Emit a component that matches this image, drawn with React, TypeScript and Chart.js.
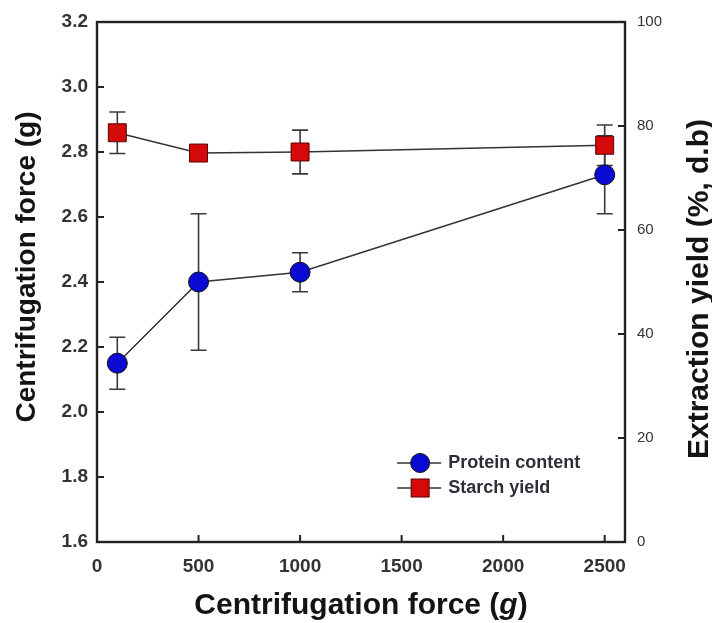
import React, { useEffect, useRef } from "react";
import { Chart, registerables } from "chart.js";

Chart.register(...registerables);

// Centrifugation force (g)
const forces = [100, 500, 1000, 2500];
// Protein content, left axis
const protein = [2.15, 2.4, 2.43, 2.73];
const proteinErr = [0.08, 0.21, 0.06, 0.12];
// Starch yield (%, d.b), right axis
const starch = [78.7, 74.8, 75.0, 76.3];
const starchErr = [4.0, 0.6, 4.2, 3.9];

const xTicks = [0, 500, 1000, 1500, 2000, 2500];
const leftTicks = [1.6, 1.8, 2.0, 2.2, 2.4, 2.6, 2.8, 3.0, 3.2];
const rightTicks = [0, 20, 40, 60, 80, 100];

const FONT = "'Liberation Sans', Arial, Helvetica, sans-serif";
const BLUE = "#0a0ad2";
const RED = "#d40a0a";

const errorBars = {
  id: "errorBars",
  beforeDatasetsDraw(chart: any) {
    const ctx = chart.ctx;
    const errs = [proteinErr, starchErr];
    chart.data.datasets.forEach((ds: any, i: number) => {
      const meta = chart.getDatasetMeta(i);
      const scale = chart.scales[ds.yAxisID];
      ctx.save();
      ctx.strokeStyle = "#3a3a3a";
      ctx.lineWidth = 1.6;
      meta.data.forEach((pt: any, j: number) => {
        const v = ds.data[j].y;
        const e = errs[i][j];
        const yTop = scale.getPixelForValue(v + e);
        const yBot = scale.getPixelForValue(v - e);
        const x = pt.x;
        const cap = 8;
        ctx.beginPath();
        ctx.moveTo(x, yTop);
        ctx.lineTo(x, yBot);
        ctx.moveTo(x - cap, yTop);
        ctx.lineTo(x + cap, yTop);
        ctx.moveTo(x - cap, yBot);
        ctx.lineTo(x + cap, yBot);
        ctx.stroke();
      });
      ctx.restore();
    });
  },
};

const frame = {
  id: "frame",
  afterDraw(chart: any) {
    const { ctx, chartArea: a, scales } = chart;
    ctx.save();
    // inward tick marks
    ctx.strokeStyle = "#222";
    ctx.lineWidth = 2;
    const tl = 7;
    ctx.beginPath();
    scales.x.ticks.forEach((t: any) => {
      const px = scales.x.getPixelForValue(t.value);
      ctx.moveTo(px, a.bottom);
      ctx.lineTo(px, a.bottom - tl);
    });
    scales.y.ticks.forEach((t: any) => {
      const py = scales.y.getPixelForValue(t.value);
      ctx.moveTo(a.left, py);
      ctx.lineTo(a.left + tl, py);
    });
    scales.y2.ticks.forEach((t: any) => {
      const py = scales.y2.getPixelForValue(t.value);
      ctx.moveTo(a.right, py);
      ctx.lineTo(a.right - tl, py);
    });
    ctx.stroke();
    // box
    ctx.lineWidth = 2.4;
    ctx.strokeRect(a.left, a.top, a.right - a.left, a.bottom - a.top);

    // axis titles
    ctx.fillStyle = "#141414";
    ctx.textBaseline = "alphabetic";
    // bottom title with italic g
    const bottomFont = `bold 30px ${FONT}`;
    const parts = [
      { t: "Centrifugation force (", f: bottomFont },
      { t: "g", f: `italic bold 30px ${FONT}` },
      { t: ")", f: bottomFont },
    ];
    let total = 0;
    parts.forEach((p) => {
      ctx.font = p.f;
      total += ctx.measureText(p.t).width;
    });
    let x = (a.left + a.right) / 2 - total / 2;
    ctx.textAlign = "left";
    parts.forEach((p) => {
      ctx.font = p.f;
      ctx.fillText(p.t, x, 614);
      x += ctx.measureText(p.t).width;
    });

    ctx.textAlign = "center";
    ctx.font = `bold 28px ${FONT}`;
    ctx.save();
    ctx.translate(35, 267);
    ctx.rotate(-Math.PI / 2);
    ctx.fillText("Centrifugation force (g)", 0, 0);
    ctx.restore();

    ctx.font = `bold 30px ${FONT}`;
    ctx.save();
    ctx.translate(708, 289);
    ctx.rotate(-Math.PI / 2);
    ctx.fillText("Extraction yield (%, d.b)", 0, 0);
    ctx.restore();

    // legend
    const lx = a.left + (a.right - a.left) * 0.612;
    const rows = [
      { label: "Protein content", color: BLUE, shape: "circle" },
      { label: "Starch yield", color: RED, shape: "rect" },
    ];
    rows.forEach((r, i) => {
      const y = 463 + i * 25;
      ctx.strokeStyle = "#333";
      ctx.lineWidth = 1.6;
      ctx.beginPath();
      ctx.moveTo(lx - 23, y);
      ctx.lineTo(lx + 21, y);
      ctx.stroke();
      ctx.fillStyle = r.color;
      ctx.lineWidth = 1;
      ctx.strokeStyle = r.shape === "circle" ? "#111" : "#5a0000";
      if (r.shape === "circle") {
        ctx.beginPath();
        ctx.arc(lx, y, 9.5, 0, Math.PI * 2);
        ctx.fill();
        ctx.stroke();
      } else {
        ctx.fillRect(lx - 9, y - 9, 18, 18);
        ctx.strokeRect(lx - 9, y - 9, 18, 18);
      }
      ctx.fillStyle = "#2e2e3a";
      ctx.font = `bold 18px ${FONT}`;
      ctx.textAlign = "left";
      ctx.textBaseline = "middle";
      ctx.fillText(r.label, lx + 28, y);
    });
    ctx.restore();
  },
};

export default function App() {
  const ref = useRef<HTMLCanvasElement>(null);

  useEffect(() => {
    if (!ref.current) return;
    const chart = new Chart(ref.current, {
      type: "line",
      data: {
        datasets: [
          {
            label: "Protein content",
            data: forces.map((f, i) => ({ x: f, y: protein[i] })),
            yAxisID: "y",
            borderColor: "#333",
            borderWidth: 1.6,
            pointStyle: "circle",
            pointRadius: 10,
            pointBackgroundColor: BLUE,
            pointBorderColor: "#111",
            pointBorderWidth: 1,
            tension: 0,
          },
          {
            label: "Starch yield",
            data: forces.map((f, i) => ({ x: f, y: starch[i] })),
            yAxisID: "y2",
            borderColor: "#333",
            borderWidth: 1.6,
            pointStyle: "rect",
            pointRadius: 12.7,
            pointBackgroundColor: RED,
            pointBorderColor: "#5a0000",
            pointBorderWidth: 1,
            tension: 0,
          },
        ],
      },
      options: {
        responsive: false,
        animation: false,
        layout: { padding: { top: 22 } },
        plugins: {
          legend: { display: false },
          tooltip: { enabled: false },
        },
        scales: {
          x: {
            type: "linear",
            min: 0,
            max: 2600,
            afterBuildTicks: (s: any) => {
              s.ticks = xTicks.map((v) => ({ value: v }));
            },
            afterFit: (s: any) => {
              s.height = 81;
            },
            grid: { display: false, drawTicks: false },
            border: { display: false },
            ticks: {
              padding: 13,
              color: "#333",
              font: { family: FONT, size: 19, weight: "bold" },
              callback: (v: any) => String(v),
            },
          },
          y: {
            type: "linear",
            position: "left",
            min: 1.6,
            max: 3.2,
            afterBuildTicks: (s: any) => {
              s.ticks = leftTicks.map((v) => ({ value: v }));
            },
            afterFit: (s: any) => {
              s.width = 97;
            },
            grid: { display: false, drawTicks: false },
            border: { display: false },
            ticks: {
              padding: 9,
              color: "#333",
              font: { family: FONT, size: 19, weight: "bold" },
              callback: (v: any) => Number(v).toFixed(1),
            },
          },
          y2: {
            type: "linear",
            position: "right",
            min: 0,
            max: 100,
            afterBuildTicks: (s: any) => {
              s.ticks = rightTicks.map((v) => ({ value: v }));
            },
            afterFit: (s: any) => {
              s.width = 87;
            },
            grid: { display: false, drawTicks: false },
            border: { display: false },
            ticks: {
              padding: 12,
              color: "#333",
              font: { family: FONT, size: 15 },
            },
          },
        },
      },
      plugins: [errorBars, frame],
    });
    return () => chart.destroy();
  }, []);

  return (
    <div style={{ position: "absolute", left: 0, top: 0, width: 712, height: 623, background: "#fff" }}>
      <canvas ref={ref} width={712} height={623} />
    </div>
  );
}
